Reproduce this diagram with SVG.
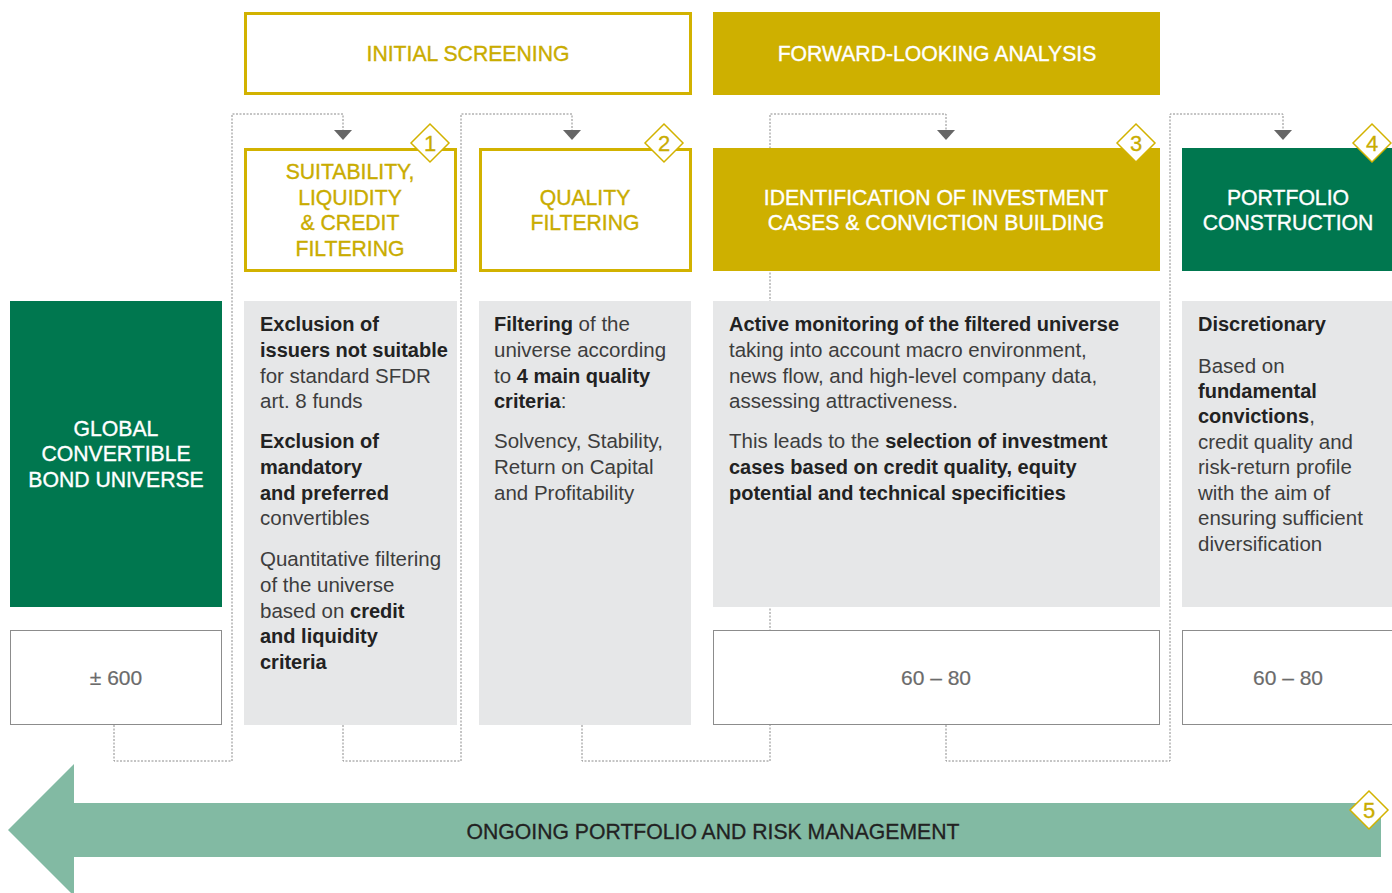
<svg xmlns="http://www.w3.org/2000/svg" width="1392" height="893" viewBox="0 0 1392 893">
<style>
text{font-family:"Liberation Sans",Arial,sans-serif}
.hdr{font-size:21.2px;text-anchor:middle;stroke-width:0.35}
.yt{fill:#c9ac00;stroke:#c9ac00}
.wt{fill:#ffffff;stroke:#ffffff}
.ybox{fill:#ffffff;stroke:#d2b200;stroke-width:3}
.yfill{fill:#ceb000}
.gfill{fill:#00774f}
.panel{fill:#e6e7e8}
.cnt{fill:#ffffff;stroke:#8c8c8c;stroke-width:1}
.cntt{font-size:21px;fill:#6b6b6b;text-anchor:middle;stroke:#6b6b6b;stroke-width:0.2}
.body{font-size:20.5px;fill:#3d3d3d}
.b{font-weight:bold;fill:#222222;font-size:20px}
.conn{fill:none;stroke:#8a8a8a;stroke-width:1;stroke-dasharray:2 1.5}
.ah{fill:#666666}
.dia{fill:#ffffff;stroke:#d2b200;stroke-width:1.5}
.num{font-size:22px;fill:#c9ac00;text-anchor:middle;stroke:#c9ac00;stroke-width:0.3}
</style>

<g id="connectors">
  <path class="conn" d="M114,725 V761 H232 V114 H343 V131"/>
  <path class="conn" d="M343,725 V761 H461 V114 H572 V131"/>
  <path class="conn" d="M582,725 V761 H770 V114 H946 V131"/>
  <path class="conn" d="M946,725 V761 H1170 V114 H1283 V131"/>
  <polygon class="ah" points="334,130 352,130 343,140"/>
  <polygon class="ah" points="563,130 581,130 572,140"/>
  <polygon class="ah" points="937,130 955,130 946,140"/>
  <polygon class="ah" points="1274,130 1292,130 1283,140"/>
</g>

<g id="initial-screening">
  <rect class="ybox" x="245.5" y="13.5" width="445" height="80"/>
  <text class="hdr yt" x="468" y="61">INITIAL SCREENING</text>
</g>
<g id="forward-looking">
  <rect class="yfill" x="713" y="12" width="447" height="83"/>
  <text class="hdr wt" x="937" y="61">FORWARD-LOOKING ANALYSIS</text>
</g>

<g id="step1">
  <rect class="ybox" x="245.5" y="149.5" width="210" height="121"/>
  <text class="hdr yt" x="350" y="179">SUITABILITY,</text>
  <text class="hdr yt" x="350" y="205">LIQUIDITY</text>
  <text class="hdr yt" x="350" y="230">&amp; CREDIT</text>
  <text class="hdr yt" x="350" y="256">FILTERING</text>
  <polygon class="dia" points="430,124 449,143 430,162 411,143"/>
  <text class="num" x="430" y="151">1</text>
</g>
<g id="step2">
  <rect class="ybox" x="480.5" y="149.5" width="210" height="121"/>
  <text class="hdr yt" x="585" y="205">QUALITY</text>
  <text class="hdr yt" x="585" y="230">FILTERING</text>
  <polygon class="dia" points="664,124 683,143 664,162 645,143"/>
  <text class="num" x="664" y="151">2</text>
</g>
<g id="step3">
  <rect class="yfill" x="713" y="148" width="447" height="123"/>
  <text class="hdr wt" x="936" y="205">IDENTIFICATION OF INVESTMENT</text>
  <text class="hdr wt" x="936" y="230">CASES &amp; CONVICTION BUILDING</text>
  <polygon class="dia" points="1136,124 1155,143 1136,162 1117,143"/>
  <text class="num" x="1136" y="151">3</text>
</g>
<g id="step4">
  <rect class="gfill" x="1182" y="148" width="210" height="123"/>
  <text class="hdr wt" x="1288" y="205">PORTFOLIO</text>
  <text class="hdr wt" x="1288" y="230">CONSTRUCTION</text>
  <polygon class="dia" points="1372,124 1391,143 1372,162 1353,143"/>
  <text class="num" x="1372" y="151">4</text>
</g>

<g id="universe">
  <rect class="gfill" x="10" y="301" width="212" height="306"/>
  <text class="hdr wt" x="116" y="436">GLOBAL</text>
  <text class="hdr wt" x="116" y="461">CONVERTIBLE</text>
  <text class="hdr wt" x="116" y="487">BOND UNIVERSE</text>
</g>

<g id="panel1">
  <rect class="panel" x="244" y="301" width="213" height="424"/>
  <text class="body" x="260" y="331"><tspan class="b">Exclusion of</tspan></text>
  <text class="body" x="260" y="357"><tspan class="b">issuers not suitable</tspan></text>
  <text class="body" x="260" y="383">for standard SFDR</text>
  <text class="body" x="260" y="408">art. 8 funds</text>
  <text class="body" x="260" y="448"><tspan class="b">Exclusion of</tspan></text>
  <text class="body" x="260" y="474"><tspan class="b">mandatory</tspan></text>
  <text class="body" x="260" y="500"><tspan class="b">and preferred</tspan></text>
  <text class="body" x="260" y="525">convertibles</text>
  <text class="body" x="260" y="566">Quantitative filtering</text>
  <text class="body" x="260" y="592">of the universe</text>
  <text class="body" x="260" y="618">based on <tspan class="b">credit</tspan></text>
  <text class="body" x="260" y="643"><tspan class="b">and liquidity</tspan></text>
  <text class="body" x="260" y="669"><tspan class="b">criteria</tspan></text>
</g>

<g id="panel2">
  <rect class="panel" x="479" y="301" width="212" height="424"/>
  <text class="body" x="494" y="331"><tspan class="b">Filtering</tspan> of the</text>
  <text class="body" x="494" y="357">universe according</text>
  <text class="body" x="494" y="383">to <tspan class="b">4 main quality</tspan></text>
  <text class="body" x="494" y="408"><tspan class="b">criteria</tspan>:</text>
  <text class="body" x="494" y="448">Solvency, Stability,</text>
  <text class="body" x="494" y="474">Return on Capital</text>
  <text class="body" x="494" y="500">and Profitability</text>
</g>

<g id="panel3">
  <rect class="panel" x="713" y="301" width="447" height="306"/>
  <text class="body" x="729" y="331"><tspan class="b">Active monitoring of the filtered universe</tspan></text>
  <text class="body" x="729" y="357">taking into account macro environment,</text>
  <text class="body" x="729" y="383">news flow, and high-level company data,</text>
  <text class="body" x="729" y="408">assessing attractiveness.</text>
  <text class="body" x="729" y="448">This leads to the <tspan class="b">selection of investment</tspan></text>
  <text class="body" x="729" y="474"><tspan class="b">cases based on credit quality, equity</tspan></text>
  <text class="body" x="729" y="500"><tspan class="b">potential and technical specificities</tspan></text>
</g>

<g id="panel4">
  <rect class="panel" x="1182" y="301" width="210" height="306"/>
  <text class="body" x="1198" y="331"><tspan class="b">Discretionary</tspan></text>
  <text class="body" x="1198" y="373">Based on</text>
  <text class="body" x="1198" y="398"><tspan class="b">fundamental</tspan></text>
  <text class="body" x="1198" y="423"><tspan class="b">convictions</tspan>,</text>
  <text class="body" x="1198" y="449">credit quality and</text>
  <text class="body" x="1198" y="474">risk-return profile</text>
  <text class="body" x="1198" y="500">with the aim of</text>
  <text class="body" x="1198" y="525">ensuring sufficient</text>
  <text class="body" x="1198" y="551">diversification</text>
</g>

<g id="count-universe">
  <rect class="cnt" x="10.5" y="630.5" width="211" height="94"/>
  <text class="cntt" x="116" y="685">± 600</text>
</g>
<g id="count-step3">
  <rect class="cnt" x="713.5" y="630.5" width="446" height="94"/>
  <text class="cntt" x="936" y="685">60 – 80</text>
</g>
<g id="count-step4">
  <rect class="cnt" x="1182.5" y="630.5" width="212" height="94"/>
  <text class="cntt" x="1288" y="685">60 – 80</text>
</g>

<g id="ongoing">
  <polygon fill="#82baa3" points="8,830 74,764 74,803 1381,803 1381,857 74,857 74,896"/>
  <text x="713" y="839" font-size="21.2" fill="#222222" stroke="#222222" stroke-width="0.3" text-anchor="middle">ONGOING PORTFOLIO AND RISK MANAGEMENT</text>
  <polygon class="dia" points="1369,791 1388,810 1369,829 1350,810"/>
  <text class="num" x="1369" y="818">5</text>
</g>
</svg>
